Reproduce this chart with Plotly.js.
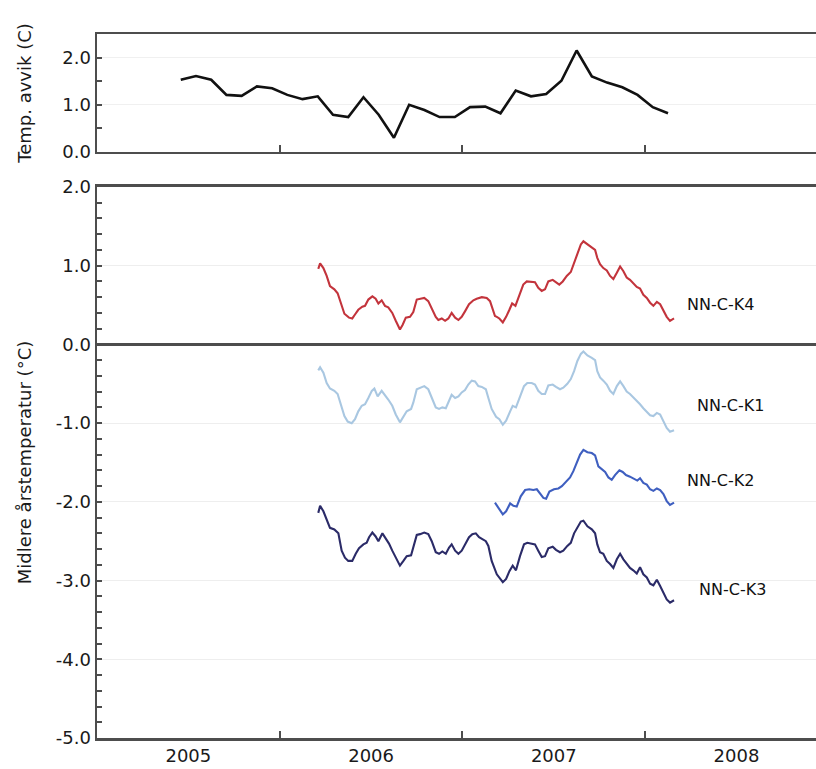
<!DOCTYPE html>
<html>
<head>
<meta charset="utf-8">
<script src="https://cdn.plot.ly/plotly-3.0.1.min.js"></script>
<style>html,body{margin:0;padding:0;background:#fff}</style>
</head>
<body>
<div id="chart" style="width:816px;height:769px"></div>
<script>
// ---- Top panel: monthly temperature anomaly ----
const months = ["2005-06","2005-07","2005-08","2005-09","2005-10","2005-11","2005-12",
  "2006-01","2006-02","2006-03","2006-04","2006-05","2006-06","2006-07","2006-08","2006-09","2006-10","2006-11","2006-12",
  "2007-01","2007-02","2007-03","2007-04","2007-05","2007-06","2007-07","2007-08","2007-09","2007-10","2007-11","2007-12",
  "2008-01","2008-02"];
const tempAvvik = [1.53,1.61,1.53,1.21,1.19,1.39,1.35,1.21,1.12,1.18,0.79,0.74,1.16,0.79,0.30,1.00,0.89,0.74,0.74,0.95,0.96,0.82,1.30,1.18,1.23,1.51,2.15,1.60,1.47,1.37,1.21,0.95,0.82];

// ---- Main panel: running annual mean temperature (decimal year, °C) ----
const k4X = [2006.211,2006.221,2006.239,2006.257,2006.275,2006.299,2006.317,2006.336,2006.354,2006.379,
  2006.397,2006.412,2006.430,2006.452,2006.467,2006.485,2006.507,2006.525,2006.540,2006.558,
  2006.576,2006.594,2006.616,2006.635,2006.658,2006.673,2006.690,2006.713,2006.731,2006.750,
  2006.768,2006.791,2006.813,2006.835,2006.854,2006.868,2006.887,2006.905,2006.923,2006.941,
  2006.960,2006.978,2006.996,2007.014,2007.036,2007.060,2007.078,2007.106,2007.133,2007.151,
  2007.178,2007.188,2007.202,2007.221,2007.239,2007.257,2007.272,2007.290,2007.311,2007.333,
  2007.352,2007.379,2007.397,2007.415,2007.434,2007.452,2007.470,2007.494,2007.512,2007.530,
  2007.549,2007.571,2007.593,2007.611,2007.629,2007.648,2007.662,2007.684,2007.708,2007.726,
  2007.738,2007.753,2007.771,2007.790,2007.808,2007.826,2007.845,2007.863,2007.881,2007.899,
  2007.917,2007.935,2007.954,2007.972,2007.990,2008.009,2008.027,2008.045,2008.064,2008.082,
  2008.100,2008.118,2008.136,2008.158];
const k4Y = [0.96,1.03,0.97,0.87,0.74,0.70,0.65,0.51,0.39,0.34,
  0.33,0.38,0.44,0.48,0.49,0.57,0.61,0.58,0.52,0.56,
  0.49,0.47,0.40,0.30,0.19,0.25,0.34,0.35,0.41,0.57,
  0.58,0.59,0.55,0.44,0.35,0.31,0.33,0.30,0.33,0.40,
  0.34,0.31,0.35,0.42,0.51,0.56,0.58,0.60,0.59,0.55,
  0.36,0.35,0.33,0.28,0.35,0.44,0.52,0.49,0.63,0.76,
  0.80,0.79,0.79,0.72,0.68,0.70,0.80,0.82,0.79,0.76,
  0.80,0.87,0.92,1.04,1.16,1.27,1.31,1.27,1.23,1.20,
  1.10,1.02,0.97,0.94,0.87,0.83,0.91,0.99,0.93,0.85,
  0.82,0.78,0.73,0.71,0.63,0.59,0.53,0.49,0.54,0.51,
  0.42,0.35,0.30,0.33];

const k1X = [2006.211,2006.221,2006.239,2006.257,2006.275,2006.299,2006.317,2006.336,2006.354,2006.372,
  2006.394,2006.412,2006.430,2006.449,2006.467,2006.485,2006.504,2006.518,2006.536,2006.558,
  2006.576,2006.594,2006.616,2006.635,2006.658,2006.677,2006.695,2006.719,2006.731,2006.750,
  2006.768,2006.791,2006.813,2006.832,2006.854,2006.872,2006.890,2006.909,2006.927,2006.941,
  2006.960,2006.978,2006.996,2007.014,2007.032,2007.051,2007.069,2007.087,2007.106,2007.128,
  2007.142,2007.160,2007.184,2007.202,2007.221,2007.239,2007.261,2007.275,2007.293,2007.315,
  2007.337,2007.355,2007.379,2007.397,2007.415,2007.434,2007.452,2007.470,2007.494,2007.512,
  2007.534,2007.552,2007.574,2007.593,2007.611,2007.629,2007.648,2007.662,2007.684,2007.708,
  2007.726,2007.738,2007.753,2007.771,2007.790,2007.808,2007.826,2007.845,2007.863,2007.881,
  2007.899,2007.917,2007.935,2007.954,2007.972,2007.990,2008.009,2008.027,2008.045,2008.064,
  2008.082,2008.100,2008.118,2008.136,2008.158];
const k1Y = [-0.33,-0.29,-0.36,-0.49,-0.56,-0.59,-0.63,-0.78,-0.91,-0.98,
  -1.00,-0.95,-0.85,-0.78,-0.76,-0.68,-0.59,-0.56,-0.66,-0.59,
  -0.64,-0.70,-0.78,-0.89,-0.99,-0.91,-0.85,-0.82,-0.74,-0.57,
  -0.55,-0.53,-0.57,-0.68,-0.80,-0.82,-0.80,-0.81,-0.72,-0.64,
  -0.68,-0.66,-0.61,-0.58,-0.51,-0.46,-0.47,-0.53,-0.54,-0.57,
  -0.68,-0.82,-0.92,-0.95,-1.02,-0.97,-0.85,-0.78,-0.80,-0.66,
  -0.53,-0.49,-0.49,-0.51,-0.59,-0.63,-0.63,-0.52,-0.51,-0.54,
  -0.57,-0.55,-0.50,-0.44,-0.34,-0.21,-0.12,-0.09,-0.14,-0.17,
  -0.20,-0.34,-0.42,-0.46,-0.51,-0.59,-0.63,-0.53,-0.47,-0.53,
  -0.60,-0.63,-0.67,-0.72,-0.76,-0.81,-0.85,-0.90,-0.91,-0.87,
  -0.89,-0.97,-1.06,-1.11,-1.09];

const k2X = [2007.178,2007.197,2007.221,2007.239,2007.261,2007.279,2007.297,2007.319,2007.343,2007.366,
  2007.388,2007.407,2007.425,2007.443,2007.458,2007.476,2007.501,2007.525,2007.544,2007.567,
  2007.589,2007.607,2007.626,2007.644,2007.662,2007.684,2007.708,2007.726,2007.744,2007.763,
  2007.781,2007.799,2007.817,2007.835,2007.859,2007.877,2007.895,2007.917,2007.939,2007.957,
  2007.972,2007.990,2008.009,2008.027,2008.045,2008.064,2008.082,2008.100,2008.118,2008.136,
  2008.158];
const k2Y = [-2.01,-2.07,-2.16,-2.12,-2.02,-2.05,-2.06,-1.93,-1.85,-1.84,
  -1.85,-1.84,-1.89,-1.95,-1.96,-1.87,-1.84,-1.83,-1.80,-1.75,
  -1.69,-1.61,-1.49,-1.40,-1.34,-1.37,-1.38,-1.41,-1.55,-1.59,
  -1.62,-1.69,-1.72,-1.66,-1.60,-1.62,-1.66,-1.68,-1.71,-1.73,
  -1.70,-1.76,-1.78,-1.84,-1.86,-1.83,-1.85,-1.90,-1.99,-2.04,
  -2.01];

const k3X = [2006.211,2006.221,2006.239,2006.257,2006.275,2006.299,2006.321,2006.339,2006.357,2006.375,
  2006.397,2006.416,2006.434,2006.458,2006.476,2006.489,2006.507,2006.525,2006.540,2006.562,
  2006.580,2006.598,2006.616,2006.635,2006.658,2006.677,2006.695,2006.719,2006.731,2006.750,
  2006.768,2006.791,2006.813,2006.832,2006.854,2006.872,2006.890,2006.909,2006.927,2006.941,
  2006.960,2006.978,2006.996,2007.014,2007.036,2007.054,2007.073,2007.091,2007.109,2007.128,
  2007.142,2007.160,2007.188,2007.202,2007.221,2007.239,2007.257,2007.275,2007.293,2007.315,
  2007.337,2007.355,2007.379,2007.397,2007.415,2007.434,2007.452,2007.470,2007.494,2007.512,
  2007.534,2007.552,2007.574,2007.593,2007.611,2007.629,2007.648,2007.662,2007.684,2007.708,
  2007.726,2007.738,2007.753,2007.771,2007.790,2007.808,2007.826,2007.845,2007.863,2007.881,
  2007.899,2007.917,2007.935,2007.954,2007.972,2007.990,2008.009,2008.027,2008.045,2008.064,
  2008.082,2008.100,2008.118,2008.136,2008.158];
const k3Y = [-2.14,-2.05,-2.12,-2.22,-2.33,-2.35,-2.40,-2.62,-2.71,-2.75,
  -2.75,-2.66,-2.59,-2.54,-2.52,-2.45,-2.39,-2.44,-2.50,-2.40,
  -2.47,-2.53,-2.62,-2.71,-2.81,-2.75,-2.69,-2.68,-2.58,-2.42,
  -2.41,-2.39,-2.41,-2.50,-2.64,-2.66,-2.63,-2.66,-2.58,-2.54,
  -2.62,-2.66,-2.62,-2.54,-2.45,-2.41,-2.40,-2.45,-2.47,-2.50,
  -2.56,-2.75,-2.92,-2.96,-3.02,-2.98,-2.88,-2.81,-2.87,-2.69,
  -2.54,-2.52,-2.53,-2.54,-2.62,-2.70,-2.69,-2.59,-2.57,-2.61,
  -2.64,-2.62,-2.56,-2.52,-2.40,-2.33,-2.25,-2.24,-2.31,-2.35,
  -2.40,-2.54,-2.64,-2.66,-2.75,-2.79,-2.84,-2.73,-2.66,-2.73,
  -2.79,-2.84,-2.87,-2.91,-2.83,-2.92,-2.96,-3.04,-3.06,-2.99,
  -3.07,-3.15,-3.24,-3.28,-3.25];

const seriesNames = ["NN-C-K4","NN-C-K1","NN-C-K2","NN-C-K3"];
const seriesColors = ["#c3343c","#a9c7e1","#3f5fc0","#2b2b68"];
const labelX = [2008.219,2008.273,2008.219,2008.284];
const labelY = [0.51,-0.77,-1.73,-3.11];

const years = ["2005","2006","2007","2008"];
const yearCenters = [2005.5,2006.5,2007.5,2008.5];
const yearBounds = [2006,2007,2008];
const mainTicks = [-5,-4,-3,-2,-1,0,1,2];
const topTicks = [0,1,2];

// month "YYYY-MM" -> decimal year at mid-month
const monthX = months.map(m => { const [y, mo] = m.split("-").map(Number); return y + (mo - 0.5) / 12; });
// tick text with plain hyphen-minus, as in the original
const fmt = v => v.toFixed(1);

const FONT = "DejaVu Sans, Liberation Sans, Arial, sans-serif";
const AXC = "#4d4d4d";
const xRange = [2005, 2008.935];

const traces = [
  {x: monthX, y: tempAvvik, xaxis: "x2", yaxis: "y2", type: "scatter", mode: "lines",
   line: {color: "#111111", width: 2.6}, name: "Temp. avvik"}
];
const xs = [k4X, k1X, k2X, k3X], ys = [k4Y, k1Y, k2Y, k3Y];
for (let i = 0; i < 4; i++) {
  traces.push({x: xs[i], y: ys[i], xaxis: "x", yaxis: "y", type: "scatter", mode: "lines",
    line: {color: seriesColors[i], width: 2.1}, name: seriesNames[i]});
}

const annotations = seriesNames.map((n, i) => ({
  x: labelX[i], y: labelY[i], xref: "x", yref: "y", text: n, showarrow: false,
  xanchor: "left", yanchor: "middle", font: {family: FONT, size: 16, color: "#111"}
}));

const minorX = {tickmode: "array", tickvals: yearBounds, ticks: "inside", ticklen: 7,
  tickwidth: 2, tickcolor: AXC, showgrid: false};

const layout = {
  width: 816, height: 769,
  margin: {l: 97, r: 0, t: 34, b: 31, pad: 0},
  paper_bgcolor: "#ffffff", plot_bgcolor: "#ffffff",
  showlegend: false,
  font: {family: FONT, color: "#1a1a1a", size: 18},
  xaxis: {
    domain: [0, 1], anchor: "y", range: xRange,
    tickmode: "array", tickvals: yearCenters, ticktext: years, ticks: "",
    tickfont: {family: FONT, size: 18, color: "#1a1a1a"},
    showgrid: false, zeroline: false,
    showline: true, linecolor: AXC, linewidth: 2.5, mirror: true,
    minor: minorX
  },
  yaxis: {
    domain: [0, 0.7827], anchor: "x", range: [-5, 2],
    tickmode: "array", tickvals: mainTicks, ticktext: mainTicks.map(fmt),
    ticks: "inside", ticklen: 5, tickwidth: 2, tickcolor: AXC,
    tickfont: {family: FONT, size: 18, color: "#1a1a1a"},
    showline: true, linecolor: AXC, linewidth: 2.5,
    showgrid: true, gridcolor: "#eeeeee", gridwidth: 1,
    zeroline: true, zerolinecolor: AXC, zerolinewidth: 2.5,
    minor: {dtick: 0.2, tick0: 0, ticks: "inside", ticklen: 5, tickwidth: 2, tickcolor: AXC, showgrid: false},
    title: {text: "Midlere årstemperatur (°C)", font: {family: FONT, size: 18, color: "#1a1a1a"}, standoff: 20}
  },
  xaxis2: {
    domain: [0, 1], anchor: "y2", range: xRange,
    tickmode: "array", tickvals: [], showticklabels: false, ticks: "",
    showgrid: false, zeroline: false,
    showline: true, linecolor: AXC, linewidth: 2.5, mirror: true,
    minor: minorX
  },
  yaxis2: {
    domain: [0.8324, 1], anchor: "x2", range: [0, 2.5],
    tickmode: "array", tickvals: topTicks, ticktext: topTicks.map(fmt),
    ticks: "inside", ticklen: 5, tickwidth: 2, tickcolor: AXC,
    tickfont: {family: FONT, size: 18, color: "#1a1a1a"},
    showline: true, linecolor: AXC, linewidth: 2.5,
    showgrid: true, gridcolor: "#f0f0f0", gridwidth: 1, zeroline: false,
    minor: {dtick: 0.5, tick0: 0, ticks: "inside", ticklen: 5, tickwidth: 2, tickcolor: AXC, showgrid: false},
    title: {text: "Temp. avvik (C)", font: {family: FONT, size: 18, color: "#1a1a1a"}, standoff: 26}
  },
  annotations: annotations
};

Plotly.newPlot("chart", traces, layout, {displayModeBar: false, staticPlot: true});
</script>
</body>
</html>
